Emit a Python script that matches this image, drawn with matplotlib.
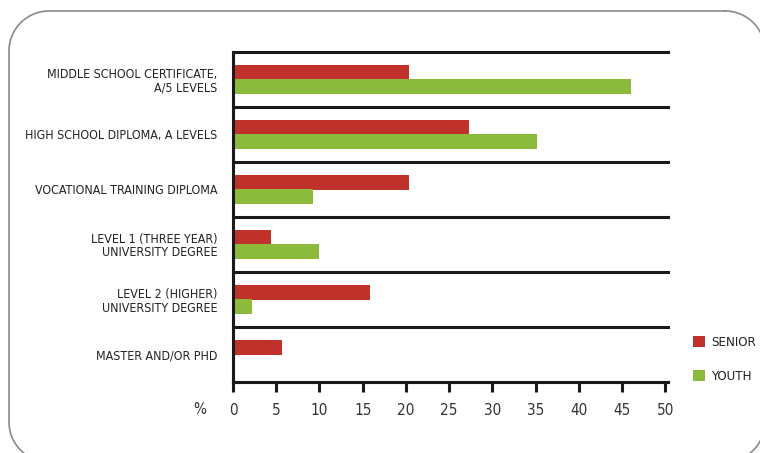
import matplotlib
matplotlib.use("Agg")
import matplotlib.pyplot as plt
import numpy as np

plt.rcParams['font.family'] = ['DejaVu Sans']
plt.rcParams['font.stretch'] = 'condensed'

categories = [
    "MIDDLE SCHOOL CERTIFICATE,\nA/5 LEVELS",
    "HIGH SCHOOL DIPLOMA, A LEVELS",
    "VOCATIONAL TRAINING DIPLOMA",
    "LEVEL 1 (THREE YEAR)\nUNIVERSITY DEGREE",
    "LEVEL 2 (HIGHER)\nUNIVERSITY DEGREE",
    "MASTER AND/OR PHD",
]
senior = [20.4, 27.3, 20.4, 4.4, 15.8, 5.7]
youth = [46.0, 35.1, 9.2, 10.0, 2.2, 0.0]
xticks = [0, 5, 10, 15, 20, 25, 30, 35, 40, 45, 50]

red = '#C0312B'
green = '#8CBB3C'

W, H = 760, 453
fig = plt.figure(figsize=(W / 100, H / 100), dpi=100)

# background axes in pixel units for the rounded frame
bg = fig.add_axes([0, 0, 1, 1])
bg.set_xlim(0, W)
bg.set_ylim(H, 0)
bg.axis('off')
x0, y0, x1, y1, r = 9, 11, 765, 462, 40
px, py = [], []
for cx, cy, a0 in [(x1 - r, y0 + r, 270), (x1 - r, y1 - r, 0),
                   (x0 + r, y1 - r, 90), (x0 + r, y0 + r, 180)]:
    t = np.radians(np.linspace(a0, a0 + 90, 30))
    px.extend(cx + r * np.cos(t))
    py.extend(cy + r * np.sin(t))
px.append(px[0])
py.append(py[0])
bg.plot(px, py, color='#8a8a8a', lw=1.2)

ax = fig.add_axes([233 / W, 71 / H, 435 / W, 330 / H])
n = len(categories)
y = np.arange(n)[::-1].astype(float)
h = 0.27
ax.barh(y + 0.13, senior, height=h, color=red, label='SENIOR')
ax.barh(y - 0.13, youth, height=h, color=green, label='YOUTH')

ax.set_xlim(0, 50.3)
ax.set_ylim(-0.5, n - 0.5)

# separators between the categories
for b in np.arange(n + 1) - 0.5:
    ax.axhline(b, color='#1a1a1a', lw=2.2, clip_on=False, zorder=3)

for s in ['top', 'right']:
    ax.spines[s].set_visible(False)
for s in ['left', 'bottom']:
    ax.spines[s].set_linewidth(2.2)
    ax.spines[s].set_color('#1a1a1a')

ax.set_xticks(xticks)
ax.set_xticklabels([str(t) for t in xticks], fontsize=11, color='#333333')
ax.tick_params(axis='x', length=7, width=2.2, color='#1a1a1a', pad=8)
ax.set_yticks(y)
ax.set_yticklabels(categories, fontsize=8.9, color='#222222', linespacing=1.05)
ax.tick_params(axis='y', length=0, pad=11)

# unit marker to the left of the x tick labels
ax.annotate('%', xy=(0, 0), xycoords='axes fraction', xytext=(-33, -20),
            textcoords='offset pixels', ha='center', va='top',
            fontsize=11, color='#333333')

ax.legend(loc='center left', bbox_to_anchor=(1.03, 0.067), frameon=False,
          handlelength=0.9, handleheight=0.9, handletextpad=0.5, labelspacing=1.6,
          fontsize=9.5, labelcolor='#222222')

fig.savefig('out.png', dpi=100)
